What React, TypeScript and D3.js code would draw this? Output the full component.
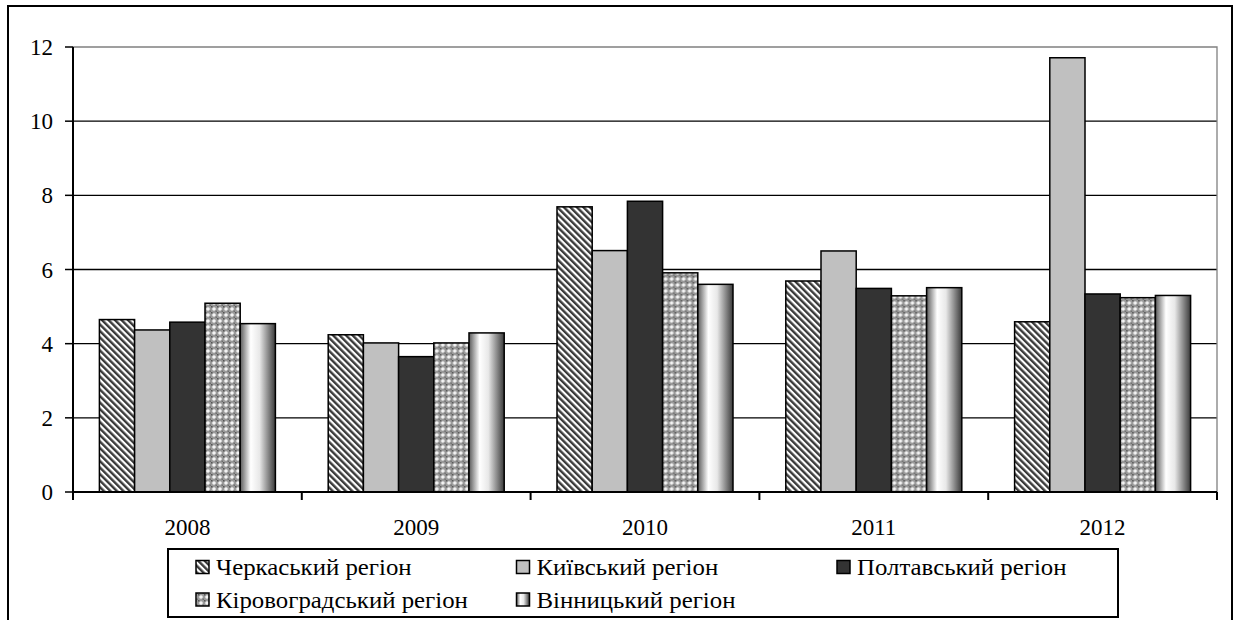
import React from "react";
import * as d3 from "d3";

const years = ["2008", "2009", "2010", "2011", "2012"];
const regions = [
  "Черкаський регіон",
  "Київський регіон",
  "Полтавський регіон",
  "Кіровоградський регіон",
  "Вінницький регіон",
];
const cherkasy = [4.65, 4.24, 7.69, 5.69, 4.59];
const kyiv = [4.37, 4.02, 6.51, 6.5, 11.71];
const poltava = [4.58, 3.65, 7.84, 5.49, 5.34];
const kirovohrad = [5.09, 4.02, 5.91, 5.29, 5.24];
const vinnytsia = [4.54, 4.29, 5.6, 5.51, 5.3];
const seriesValues = [cherkasy, kyiv, poltava, kirovohrad, vinnytsia];
const yTicks = [0, 2, 4, 6, 8, 10, 12];

const fills = ["url(#stripes)", "#c0c0c0", "#333333", "url(#dots)", "url(#cyl)"];

const width = 1235;
const height = 620;
const margin = { left: 73, right: 18, top: 47, bottom: 128 };
const font = "Liberation Serif";
const fontSize = 23;

const App = () => {
  const plotRight = width - margin.right;

  const x0 = d3
    .scaleBand()
    .domain(years)
    .range([margin.left, plotRight])
    .paddingInner(0)
    .paddingOuter(0);

  const x1 = d3
    .scaleBand()
    .domain(regions)
    .range([0, x0.bandwidth()])
    .paddingOuter(0.75)
    .paddingInner(0);

  const y = d3
    .scaleLinear()
    .domain([0, 12])
    .range([height - margin.bottom, margin.top]);

  const bounds = years.map((d) => x0(d) as number).concat([plotRight]);
  const colX = [196, 516.5, 837];
  const rowY = [567, 599.5];

  return (
    <div style={{ position: "absolute", left: 0, top: 0 }}>
      <svg width={width} height={height} fontFamily={font} style={{ display: "block" }}>
        <defs>
          <pattern id="stripes" patternUnits="userSpaceOnUse" width={4.6} height={4.6} patternTransform="rotate(-45)">
            <rect width={4.6} height={4.6} fill="#ffffff" />
            <rect width={2.4} height={4.6} fill="#3a3a3a" />
          </pattern>
          <pattern id="dots" patternUnits="userSpaceOnUse" width={6} height={6}>
            <rect width={6} height={6} fill="#9a9a9a" />
            <circle cx={3} cy={3} r={1.8} fill="#f4f4f4" />
            <rect x={0} y={0} width={1.5} height={1.5} fill="#555" />
            <rect x={4.5} y={4.5} width={1.5} height={1.5} fill="#707070" />
          </pattern>
          <linearGradient id="cyl" x1="0" x2="1" y1="0" y2="0">
            <stop offset="0" stopColor="#5a5a5a" />
            <stop offset="0.3" stopColor="#ffffff" />
            <stop offset="0.55" stopColor="#e8e8e8" />
            <stop offset="1" stopColor="#3a3a3a" />
          </linearGradient>
        </defs>

        {/* outer frame */}
        <rect x={8} y={6} width={1224} height={640} fill="none" stroke="#000" strokeWidth={2} />

        {/* gridlines */}
        {yTicks
          .filter((t) => t > 0 && t < 12)
          .map((t) => (
            <line key={t} x1={margin.left} x2={plotRight} y1={y(t)} y2={y(t)} stroke="#000" strokeWidth={1.3} />
          ))}

        {/* plot border, grey on top and right */}
        <path d={`M${margin.left},${y(12)}H${plotRight}V${y(0)}`} fill="none" stroke="#808080" strokeWidth={1.3} />

        {/* bars */}
        {years.map((yr, i) => (
          <g key={yr} transform={`translate(${x0(yr)},0)`}>
            {seriesValues.map((s, k) => (
              <rect
                key={k}
                x={x1(regions[k])}
                y={y(s[i])}
                width={x1.bandwidth()}
                height={y(0) - y(s[i])}
                fill={fills[k]}
                stroke="#000"
                strokeWidth={1.5}
              />
            ))}
          </g>
        ))}

        {/* y axis */}
        <line x1={margin.left} x2={margin.left} y1={y(12)} y2={y(0) + 8} stroke="#000" strokeWidth={2} />
        {yTicks.map((t) => (
          <g key={t} transform={`translate(${margin.left},${y(t)})`}>
            <line x1={-8} x2={0} stroke="#000" strokeWidth={1.5} />
            <text x={-20} dy="0.35em" textAnchor="end" fontFamily={font} fontSize={fontSize} fill="#000">
              {d3.format("d")(t)}
            </text>
          </g>
        ))}

        {/* x axis */}
        <line x1={margin.left} x2={plotRight} y1={y(0)} y2={y(0)} stroke="#000" strokeWidth={2} />
        {bounds.map((b) => (
          <line key={b} x1={b} x2={b} y1={y(0)} y2={y(0) + 8} stroke="#000" strokeWidth={2} />
        ))}
        {years.map((yr) => (
          <text
            key={yr}
            x={(x0(yr) as number) + x0.bandwidth() / 2}
            y={y(0) + 27}
            dy="0.71em"
            textAnchor="middle"
            fontFamily={font}
            fontSize={fontSize}
            fill="#000"
          >
            {yr}
          </text>
        ))}

        {/* legend */}
        <rect x={168} y={549} width={950} height={68} fill="#fff" stroke="#000" strokeWidth={2} />
        {regions.map((r, i) => {
          const cx = colX[i % 3];
          const cy = rowY[Math.floor(i / 3)];
          return (
            <g key={r}>
              <rect x={cx} y={cy - 6.5} width={13} height={13} fill={fills[i]} stroke="#000" strokeWidth={1.5} />
              <text
                transform={`translate(${cx + 20},${cy}) scale(1.08,1)`}
                dy="0.35em"
                fontFamily={font}
                fontSize={fontSize}
                fill="#000"
              >
                {r}
              </text>
            </g>
          );
        })}
      </svg>
    </div>
  );
};

export default App;
